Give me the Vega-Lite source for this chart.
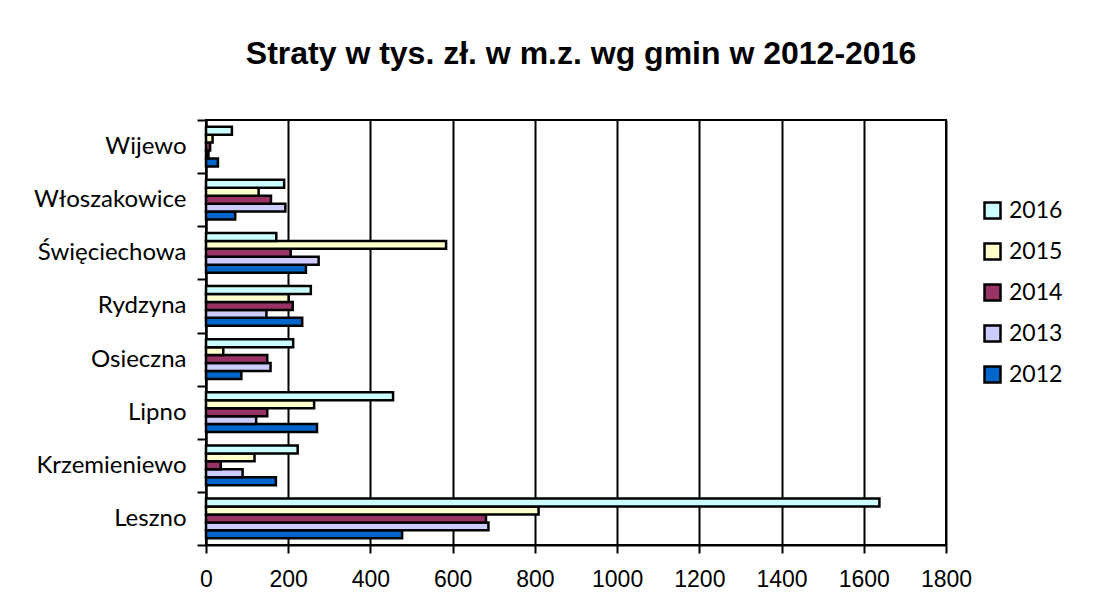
{
  "$schema": "https://vega.github.io/schema/vega-lite/v6.json",
  "autosize": {"type": "none"},
  "padding": {"left": 206, "top": 120, "right": 165, "bottom": 71},
  "width": 740,
  "height": 425,
  "background": "white",
  "title": {
    "text": "Straty w tys. zł. w m.z. wg gmin w 2012-2016",
    "font": "Liberation Sans",
    "fontSize": 32,
    "fontWeight": "bold",
    "color": "black",
    "anchor": "middle",
    "dx": 5,
    "offset": 37
  },
  "data": {
    "values": [
      {"gmina": "Wijewo", "rok": "2012", "strata": 29},
      {"gmina": "Wijewo", "rok": "2013", "strata": 6},
      {"gmina": "Wijewo", "rok": "2014", "strata": 10},
      {"gmina": "Wijewo", "rok": "2015", "strata": 16},
      {"gmina": "Wijewo", "rok": "2016", "strata": 63},
      {"gmina": "Włoszakowice", "rok": "2012", "strata": 71},
      {"gmina": "Włoszakowice", "rok": "2013", "strata": 193},
      {"gmina": "Włoszakowice", "rok": "2014", "strata": 158},
      {"gmina": "Włoszakowice", "rok": "2015", "strata": 128},
      {"gmina": "Włoszakowice", "rok": "2016", "strata": 190},
      {"gmina": "Święciechowa", "rok": "2012", "strata": 243},
      {"gmina": "Święciechowa", "rok": "2013", "strata": 274},
      {"gmina": "Święciechowa", "rok": "2014", "strata": 206},
      {"gmina": "Święciechowa", "rok": "2015", "strata": 584},
      {"gmina": "Święciechowa", "rok": "2016", "strata": 171},
      {"gmina": "Rydzyna", "rok": "2012", "strata": 234},
      {"gmina": "Rydzyna", "rok": "2013", "strata": 147},
      {"gmina": "Rydzyna", "rok": "2014", "strata": 211},
      {"gmina": "Rydzyna", "rok": "2015", "strata": 201},
      {"gmina": "Rydzyna", "rok": "2016", "strata": 255},
      {"gmina": "Osieczna", "rok": "2012", "strata": 86},
      {"gmina": "Osieczna", "rok": "2013", "strata": 157},
      {"gmina": "Osieczna", "rok": "2014", "strata": 149},
      {"gmina": "Osieczna", "rok": "2015", "strata": 42},
      {"gmina": "Osieczna", "rok": "2016", "strata": 212},
      {"gmina": "Lipno", "rok": "2012", "strata": 270},
      {"gmina": "Lipno", "rok": "2013", "strata": 122},
      {"gmina": "Lipno", "rok": "2014", "strata": 149},
      {"gmina": "Lipno", "rok": "2015", "strata": 263},
      {"gmina": "Lipno", "rok": "2016", "strata": 455},
      {"gmina": "Krzemieniewo", "rok": "2012", "strata": 170},
      {"gmina": "Krzemieniewo", "rok": "2013", "strata": 89},
      {"gmina": "Krzemieniewo", "rok": "2014", "strata": 36},
      {"gmina": "Krzemieniewo", "rok": "2015", "strata": 118},
      {"gmina": "Krzemieniewo", "rok": "2016", "strata": 223},
      {"gmina": "Leszno", "rok": "2012", "strata": 477},
      {"gmina": "Leszno", "rok": "2013", "strata": 687},
      {"gmina": "Leszno", "rok": "2014", "strata": 681},
      {"gmina": "Leszno", "rok": "2015", "strata": 809},
      {"gmina": "Leszno", "rok": "2016", "strata": 1638}
    ]
  },
  "mark": {"type": "bar", "stroke": "black", "strokeWidth": 2.5},
  "encoding": {
    "y": {
      "field": "gmina",
      "type": "nominal",
      "sort": ["Wijewo", "Włoszakowice", "Święciechowa", "Rydzyna", "Osieczna", "Lipno", "Krzemieniewo", "Leszno"],
      "scale": {"paddingInner": 0, "paddingOuter": 0},
      "axis": {
        "title": null,
        "tickBand": "extent",
        "tickSize": 9,
        "tickWidth": 2,
        "tickColor": "black",
        "domainColor": "black",
        "domainWidth": 2,
        "labelFont": "Lato",
        "labelFontSize": 24,
        "labelColor": "black",
        "labelPadding": 11,
        "grid": false
      }
    },
    "yOffset": {
      "field": "rok",
      "type": "nominal",
      "sort": ["2016", "2015", "2014", "2013", "2012"],
      "scale": {"paddingInner": 0, "paddingOuter": 0.85}
    },
    "x": {
      "field": "strata",
      "type": "quantitative",
      "scale": {"domain": [0, 1800], "nice": false},
      "axis": {
        "title": null,
        "values": [0, 200, 400, 600, 800, 1000, 1200, 1400, 1600, 1800],
        "format": "d",
        "grid": true,
        "gridColor": "black",
        "gridWidth": 2,
        "gridOpacity": 1,
        "domainColor": "black",
        "domainWidth": 2,
        "tickColor": "black",
        "tickWidth": 2,
        "tickSize": 8,
        "labelFont": "Liberation Sans",
        "labelFontSize": 23,
        "labelColor": "black",
        "labelPadding": 15,
        "labelFlush": false
      }
    },
    "fill": {
      "field": "rok",
      "type": "nominal",
      "scale": {
        "domain": ["2016", "2015", "2014", "2013", "2012"],
        "range": ["#CCFFFF", "#FFFFCC", "#993366", "#CCCCFF", "#0066CC"]
      },
      "legend": {
        "title": null,
        "orient": "none",
        "legendX": 775,
        "legendY": 79,
        "symbolType": "square",
        "symbolSize": 256,
        "symbolStrokeColor": "black",
        "symbolStrokeWidth": 2.5,
        "symbolOpacity": 1,
        "labelFont": "Lato",
        "labelFontSize": 23,
        "labelColor": "black",
        "labelOffset": 5,
        "rowPadding": 14
      }
    }
  },
  "config": {
    "view": {"stroke": "black", "strokeWidth": 2}
  }
}
